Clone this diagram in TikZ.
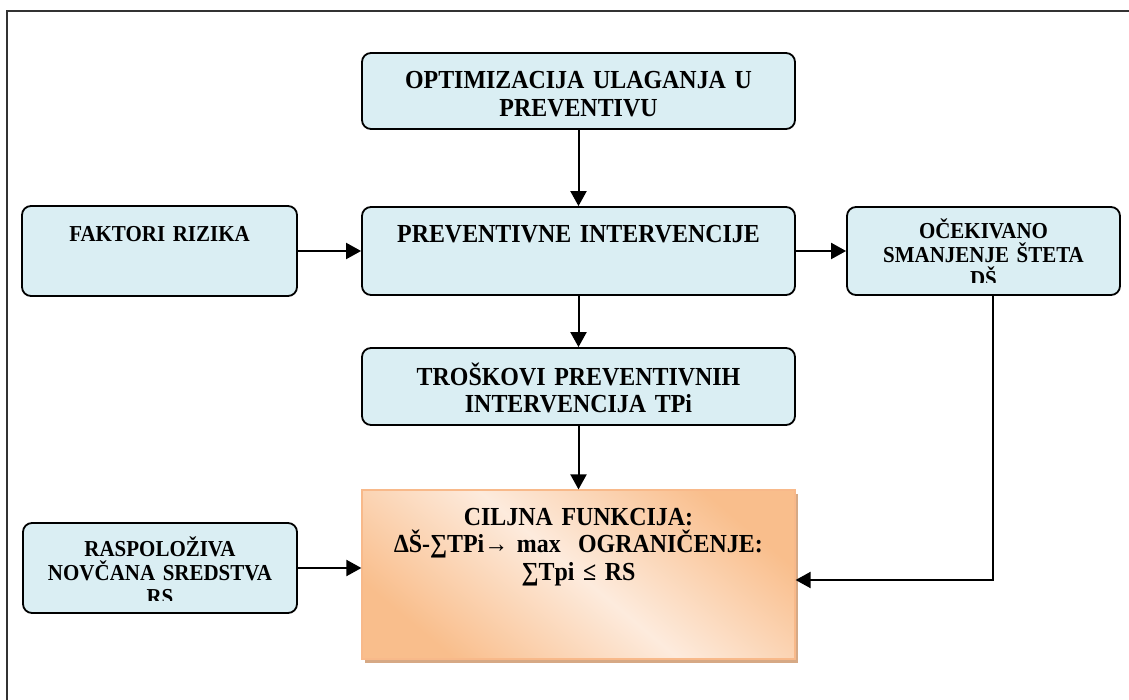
\documentclass[tikz,border=0pt]{standalone}
\usepackage{fontspec}
\setmainfont{Liberation Serif}[FakeStretch=0.92]
\usetikzlibrary{arrows.meta,shadows}

\definecolor{plava}{HTML}{DAEEF3}
\definecolor{narandza}{HTML}{F9BE8C}
\definecolor{svijetla}{HTML}{FDEBDD}
\definecolor{rub}{HTML}{F8B98A}
\definecolor{sjena}{HTML}{D6A985}

\newcommand\velik{\fontsize{26}{27.5}\selectfont\bfseries}
\newcommand\mali{\fontsize{22.8}{24}\selectfont\bfseries}

\begin{document}
\begin{tikzpicture}[x=1pt, y=-1pt,
  blok/.style={draw, line width=1.8pt, rounded corners=9pt, fill=plava,
               align=center, inner xsep=6pt, inner ysep=0pt, font=\velik},
  cilj/.style={draw=rub, line width=1.2pt, shading=axis, top color=narandza,
               bottom color=narandza, middle color=svijetla, shading angle=-40,
               drop shadow={shadow xshift=3pt, shadow yshift=-4pt, fill=sjena, opacity=1},
               align=center, inner xsep=6pt, inner ysep=0pt, font=\velik},
  tok/.style={-{Triangle[length=15pt,width=16pt]}, line width=2pt}
]
  \useasboundingbox (0,0) rectangle (1129,700);

  %-- okvir
  \draw[black!80, line width=1.5pt] (1129,11) -- (7,11) -- (7,700);

  %-- srednji stupac
  \node[blok, text width=421pt, text height=36pt, text depth=40pt] (opt) at (578.5,91)
    {OPTIMIZACIJA ULAGANJA U\\PREVENTIVU};
  \node[blok, text width=421pt, text height=36pt, text depth=52pt] (prev) at (578.5,251)
    {PREVENTIVNE INTERVENCIJE};
  \node[blok, text width=421pt, text height=37pt, text depth=40pt] (tpi) at (578.5,386.5)
    {TROŠKOVI PREVENTIVNIH\\INTERVENCIJA TPi};
  \node[cilj, text width=421pt, text height=35pt, text depth=134pt] (fun) at (578.5,574.5)
    {CILJNA FUNKCIJA:\\∆Š-∑TPi→ max\ \ OGRANIČENJE:\\∑Tpi ≤ RS};

  %-- lijevo
  \node[blok, font=\mali, text width=263pt, text height=36pt, text depth=54pt] (fak) at (159.5,251)
    {FAKTORI RIZIKA};
  \node[blok, text width=262pt, text height=34pt, text depth=56pt] (ras) at (160,568) {};
  \begin{scope}
    \clip (ras.north west) rectangle ([yshift=13pt]ras.south east);
    \node[anchor=base, align=center, text width=262pt, font=\mali] (rastxt)
      at ([yshift=-34pt]ras.north) {RASPOLOŽIVA\\NOVČANA SREDSTVA\\RS};
  \end{scope}

  %-- desno
  \node[blok, text width=261pt, text height=32pt, text depth=56pt] (ocek) at (983.5,251) {};
  \begin{scope}
    \clip (ocek.north west) rectangle ([yshift=13pt]ocek.south east);
    \node[anchor=base, align=center, text width=261pt, font=\mali] (ocektxt)
      at ([yshift=-32pt]ocek.north) {OČEKIVANO\\SMANJENJE ŠTETA\\DŠ};
  \end{scope}

  %-- strelice
  \draw[tok] (opt)  -- (prev);
  \draw[tok] (fak)  -- (prev);
  \draw[tok] (prev) -- (ocek);
  \draw[tok] (prev) -- (tpi);
  \draw[tok] (tpi)  -- (fun);
  \draw[tok] (ras.east) -- (ras.east -| fun.west);
  \draw[tok] ([xshift=9.5pt]ocek.south) |- ([yshift=-5.5pt]fun.east);
\end{tikzpicture}
\end{document}
